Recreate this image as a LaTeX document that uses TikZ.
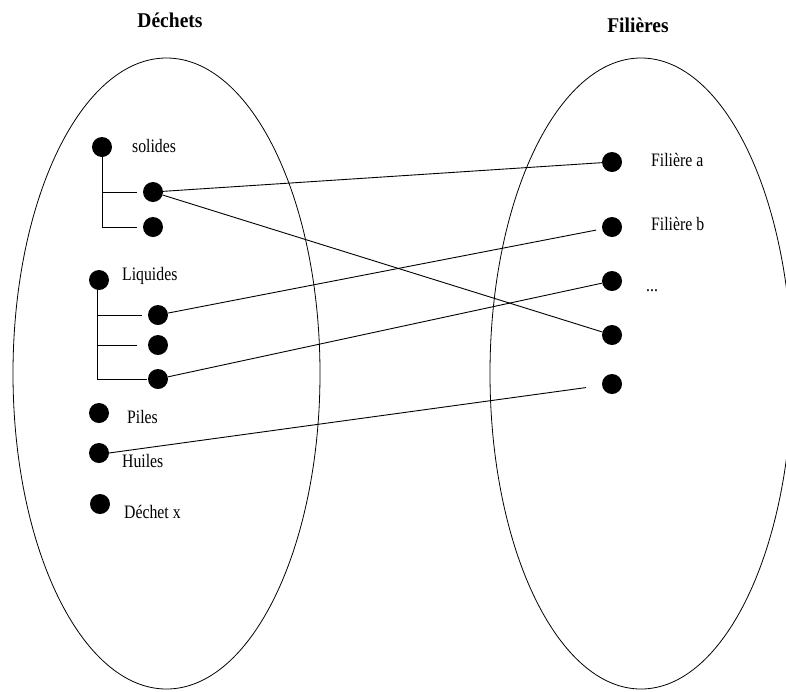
\documentclass[tikz,border=0pt]{standalone}
\usepackage{fontspec}
\setmainfont{Liberation Serif}
\newfontfamily\lblfont[FakeStretch=0.83]{Liberation Serif}
\newfontfamily\ttlfont[FakeStretch=0.93]{Liberation Serif}
\usetikzlibrary{shapes.geometric}
\begin{document}
\begin{tikzpicture}[x=1pt,y=-1pt,
  dot/.style={circle,fill=black,inner sep=0pt,minimum size=20pt},
  lbl/.style={anchor=base west,inner sep=0pt,font=\lblfont\fontsize{19}{19}\selectfont},
  ttl/.style={anchor=base,inner sep=0pt,font=\ttlfont\fontsize{21}{21}\selectfont\bfseries},
  set/.style={ellipse,draw,line width=0.8pt,inner sep=0pt},
  lnk/.style={line width=0.9pt},
  tree/.style={line width=0.9pt}]
\useasboundingbox (0,0) rectangle (786,691);
% sets
\node[set,minimum width=307pt,minimum height=631pt] (L) at (166.5,373.5) {};
\node[set,minimum width=302pt,minimum height=631pt] (R) at (641,373.5) {};
% titles
\node[ttl] (tL) at (170,27) {Déchets};
\node[ttl] (tR) at (638,32) {Filières};
% left dots
\node[dot] (sol) at (102,147) {};
\node[dot] (s1) at (153,192) {};
\node[dot] (s2) at (153,227) {};
\node[dot] (liq) at (99,280) {};
\node[dot] (l1) at (158,315) {};
\node[dot] (l2) at (158,345) {};
\node[dot] (l3) at (158,379) {};
\node[dot] (pil) at (99,413) {};
\node[dot] (hui) at (99,453) {};
\node[dot] (dx) at (100,504) {};
% left labels
\node[lbl] (tsol) at (132,152) {solides};
\node[lbl] (tliq) at (122,280) {Liquides};
\node[lbl] (tpil) at (127,423) {Piles};
\node[lbl] (thui) at (122,467) {Huiles};
\node[lbl] (tdx) at (124,518) {Déchet x};
% right dots
\node[dot] (fa) at (612,162) {};
\node[dot] (fb) at (612,227) {};
\node[dot] (fc) at (612,281) {};
\node[dot] (fd) at (612,335) {};
\node[dot] (fe) at (612,384) {};
% right labels
\node[lbl] (tfa) at (651,166) {Filière a};
\node[lbl] (tfb) at (651,230) {Filière b};
\node[lbl] (tfc) at (646,291) {...};
% trees
\coordinate (sv) at (sol.south |- s2);
\draw[tree] (sol.south) -- (sv) -- ([xshift=-6pt]s2.west);
\draw[tree] (sol.south |- s1) -- ([xshift=-6pt]s1.west);
\coordinate (lv) at ([xshift=-2pt]liq.south |- l3);
\draw[tree] ([xshift=-2pt]liq.south) -- (lv) -- ([xshift=-1pt]l3.west);
\draw[tree] (lv |- l1) -- ([xshift=-6pt]l1.west);
\draw[tree] (lv |- l2) -- ([xshift=-11pt]l2.west);
% links
\draw[lnk] (s1) -- (fa);
\draw[lnk] (s1) -- (fd);
\draw[lnk,shorten >=6pt] (l1) -- (fb);
\draw[lnk] (l3) -- (fc);
\draw[lnk,shorten >=16pt] (hui.center) ++(10pt,0) -- (fe);
\end{tikzpicture}
\end{document}
